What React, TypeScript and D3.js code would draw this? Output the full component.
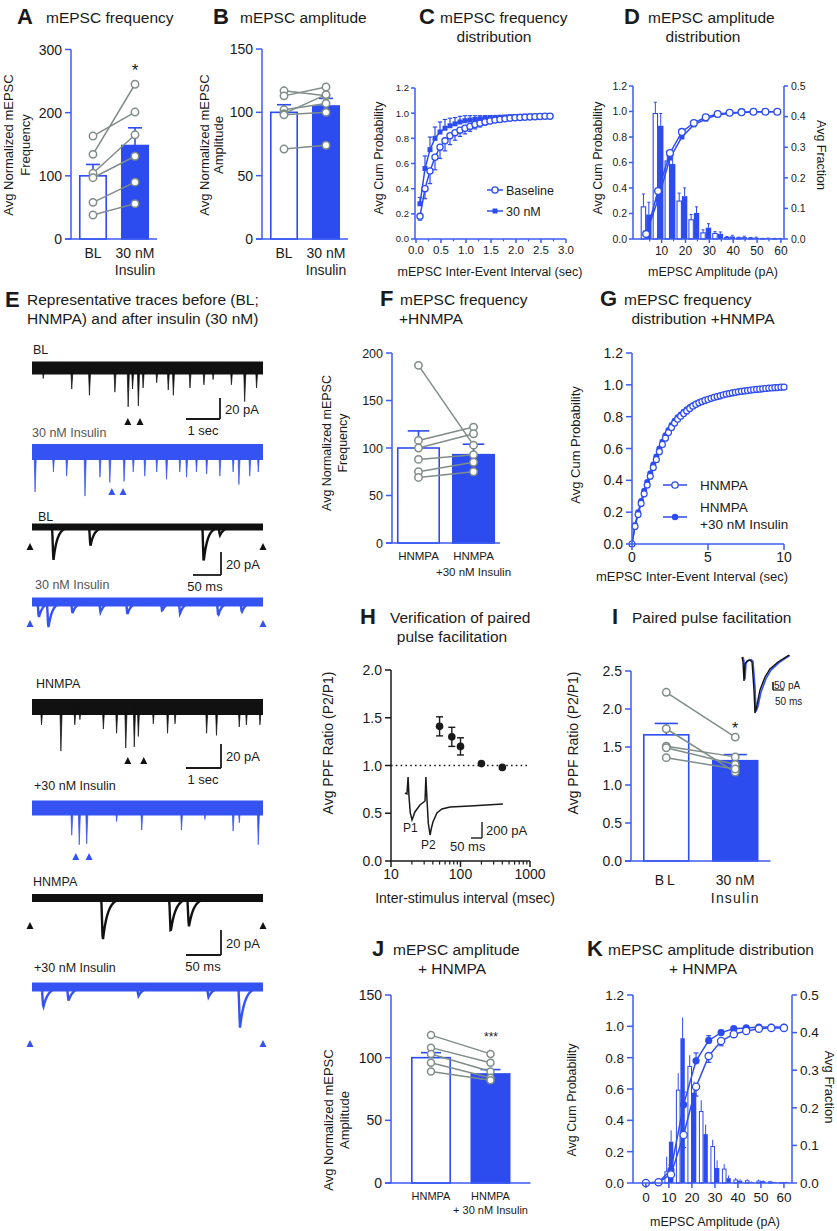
import React from "react";
import * as d3 from "d3";

const BLUE = "#2d4cf0";
const AXB = "#3b5bf5";
const GRAY = "#7f8d89";
const TBLUE = "#3553f2";
const INK = "#1a1a1a";
const FONT = "'Liberation Sans', Arial, Helvetica, sans-serif";

// ---------------- DATA ----------------
// A
const catsA = ["BL", "30 nM Insulin"];
const meanA = [100, 148];
const semA = [18, 28];
const preA = [163, 134, 104, 97, 58, 38];
const postA = [201, 245, 165, 131, 90, 56];
const ticksA = [0, 100, 200, 300];
// B
const meanB = [100, 105];
const semB = [6, 6];
const preB = [117, 113, 102, 99, 98, 71];
const postB = [113, 120, 107, 114, 100, 74];
const ticksB = [0, 50, 100, 150];
// C
const tC = [0.08, 0.18, 0.28, 0.38, 0.48, 0.58, 0.68, 0.78, 0.88, 0.98, 1.08, 1.18, 1.28, 1.38, 1.48, 1.58, 1.68, 1.78, 1.88, 1.98, 2.08, 2.18, 2.28, 2.38, 2.48, 2.58, 2.68];
const cumBLC = [0.18, 0.4, 0.54, 0.65, 0.73, 0.78, 0.82, 0.845, 0.865, 0.88, 0.895, 0.91, 0.92, 0.93, 0.938, 0.945, 0.95, 0.955, 0.96, 0.963, 0.966, 0.968, 0.97, 0.972, 0.974, 0.975, 0.976];
const errBLC = [0.03, 0.08, 0.1, 0.1, 0.09, 0.08, 0.07, 0.06, 0.05, 0.045, 0.04, 0.035, 0.03, 0.025, 0.02, 0.018, 0.016, 0.014, 0.012, 0.01, 0.01, 0.008, 0.008, 0.006, 0.006, 0.005, 0.005];
const cumInsC = [0.28, 0.56, 0.71, 0.8, 0.85, 0.88, 0.9, 0.915, 0.93, 0.94, 0.945, 0.95, 0.955, 0.96, 0.963, 0.966, 0.968, 0.97, 0.972, 0.974, 0.975, 0.976, 0.977, 0.978, 0.979, 0.98, 0.98];
const errInsC = [0.05, 0.1, 0.1, 0.09, 0.08, 0.07, 0.06, 0.05, 0.045, 0.04, 0.035, 0.03, 0.025, 0.02, 0.018, 0.015, 0.012, 0.01, 0.01, 0.008, 0.008, 0.006, 0.006, 0.005, 0.005, 0.004, 0.004];
const ticksCx = [0, 0.5, 1, 1.5, 2, 2.5, 3];
const ticksCum = [0, 0.2, 0.4, 0.6, 0.8, 1.0, 1.2];
// D
const binD = [3.5, 8.5, 13.5, 18.5, 23.5, 28.5, 33.5, 38.5, 43.5, 48.5, 53.5, 58.5];
const fracBLD = [0.105, 0.41, 0.255, 0.124, 0.063, 0.02, 0.018, 0.005, 0.004, 0.003, 0.001, 0.001];
const fracBLDerr = [0.042, 0.037, 0.03, 0.026, 0.017, 0.01, 0.006, 0.003, 0.002, 0.002, 0.001, 0.001];
const fracInsD = [0.08, 0.37, 0.245, 0.14, 0.085, 0.037, 0.017, 0.008, 0.006, 0.004, 0.002, 0.001];
const fracInsDerr = [0.04, 0.04, 0.03, 0.027, 0.02, 0.013, 0.006, 0.004, 0.003, 0.002, 0.001, 0.001];
const cumBLD = [0.04, 0.376, 0.675, 0.84, 0.91, 0.955, 0.98, 0.99, 0.995, 0.998, 0.998, 0.998];
const cumInsD = [0.04, 0.31, 0.635, 0.8, 0.895, 0.94, 0.975, 0.985, 0.993, 0.997, 0.998, 0.998];
const ticksDx = [10, 20, 30, 40, 50, 60];
const ticksFrac = [0, 0.1, 0.2, 0.3, 0.4, 0.5];
// E traces (time s, amplitude pA)
const evBL1: number[][] = [[0.33, 10], [1.17, 20], [1.69, 26], [2.44, 23], [2.83, 37], [2.96, 20], [3.13, 36], [3.27, 19], [3.67, 14], [4.01, 21], [4.16, 26], [4.65, 19], [5.06, 16], [5.33, 11], [5.87, 16], [6.26, 32], [6.61, 19]];
const evIns1: number[][] = [[0.09, 38], [0.63, 19], [1.02, 23], [1.56, 42], [2.0, 24], [2.29, 29], [2.71, 28], [2.98, 19], [3.32, 23], [3.67, 19], [3.96, 26], [4.35, 19], [4.55, 24], [4.84, 19], [5.14, 21], [5.53, 23], [5.92, 19], [6.09, 31], [6.41, 23], [6.66, 19]];
const evHN1: number[][] = [[0.28, 17], [0.85, 42], [1.26, 17], [1.41, 12], [2.1, 21], [2.49, 25], [2.76, 39], [3.01, 38], [3.13, 28], [3.57, 16], [3.99, 25], [4.21, 16], [5.14, 25], [5.43, 27], [6.1, 19], [6.31, 17], [6.71, 17]];
const evHNIns1: number[][] = [[1.17, 26], [1.39, 35], [1.61, 34], [2.49, 13], [3.23, 21], [4.4, 21], [5.09, 11], [5.92, 22], [6.1, 14], [6.66, 35]];
const arrBL1 = [2.82, 3.18];
const arrIns1 = [2.35, 2.68];
const arrHN1 = [2.82, 3.29];
const arrHNIns1 = [1.29, 1.68];
// zoomed traces (time ms, amplitude pA)
const evBL2: number[][] = [[36, 30], [102, 17], [304, 31], [333, 7]];
const evIns2: number[][] = [[10, 14], [27, 22], [70, 10], [120, 9], [168, 11], [230, 8], [262, 10], [330, 12], [372, 9]];
const evHN2: number[][] = [[99, 38], [196, 30], [222, 25]];
const evHNIns2: number[][] = [[14, 18], [50, 12], [150, 8], [250, 9], [295, 36]];
// F
const catsF = ["HNMPA", "HNMPA +30 nM Insulin"];
const meanF = [100, 93];
const semF = [18, 11];
const preF = [187, 108, 100, 88, 75, 69];
const postF = [103, 122, 115, 93, 85, 75];
const ticksF = [0, 50, 100, 150, 200];
// G
const tG = [0, 0.2, 0.4, 0.6, 0.8, 1, 1.2, 1.4, 1.6, 1.8, 2, 2.2, 2.4, 2.6, 2.8, 3, 3.2, 3.4, 3.6, 3.8, 4, 4.2, 4.4, 4.6, 4.8, 5, 5.2, 5.4, 5.6, 5.8, 6, 6.2, 6.4, 6.6, 6.8, 7, 7.2, 7.4, 7.6, 7.8, 8, 8.2, 8.4, 8.6, 8.8, 9, 9.2, 9.4, 9.6, 9.8, 10];
const cumHG = [0, 0.11, 0.185, 0.255, 0.315, 0.37, 0.425, 0.48, 0.53, 0.58, 0.625, 0.665, 0.7, 0.732, 0.76, 0.783, 0.802, 0.82, 0.836, 0.851, 0.866, 0.877, 0.887, 0.895, 0.902, 0.908, 0.915, 0.921, 0.926, 0.931, 0.936, 0.941, 0.945, 0.949, 0.953, 0.956, 0.959, 0.962, 0.964, 0.967, 0.969, 0.971, 0.973, 0.975, 0.977, 0.979, 0.98, 0.982, 0.983, 0.985, 0.986];
const cumIG = [0, 0.12, 0.2, 0.27, 0.335, 0.39, 0.445, 0.5, 0.55, 0.6, 0.643, 0.683, 0.717, 0.748, 0.774, 0.796, 0.814, 0.831, 0.846, 0.86, 0.872, 0.882, 0.891, 0.899, 0.906, 0.912, 0.918, 0.924, 0.929, 0.934, 0.939, 0.943, 0.947, 0.951, 0.955, 0.958, 0.961, 0.963, 0.966, 0.968, 0.97, 0.972, 0.974, 0.976, 0.978, 0.98, 0.981, 0.983, 0.984, 0.986, 0.987];
const ticksGx = [0, 5, 10];
// H
const isiH = [50, 75, 100, 200, 400];
const ppfH = [1.41, 1.3, 1.2, 1.02, 0.98];
const ppfErrH = [0.1, 0.1, 0.09, 0, 0];
const ticksHy = [0, 0.5, 1, 1.5, 2];
const ticksHx = [10, 100, 1000];
const ppfTraceT = [0, 9, 14, 18, 24, 32, 38, 45, 68, 91, 95, 100, 106, 114, 120, 127, 145, 168, 205, 295, 445];
const ppfTraceI = [0, -12, 200, -37, -250, -337, -290, -237, -150, -100, 200, -87, -380, -525, -440, -362, -250, -200, -175, -162, -137];
// I
const catsI = ["BL", "30 nM Insulin"];
const meanI = [1.66, 1.32];
const semI = [0.15, 0.08];
const preI = [2.22, 1.74, 1.51, 1.49, 1.36];
const postI = [1.63, 1.17, 1.37, 1.27, 1.21];
const ticksI = [0, 0.5, 1, 1.5, 2, 2.5];
const insetT = [0, 4.5, 9, 13.6, 22.7, 36.4, 45.5, 54.5, 59, 68, 81.8, 104.5, 127, 163.6, 213.6];
const insetBL = [0, -31, -150, -44, -25, -19, -31, -206, -350, -300, -206, -125, -75, -31, 12];
const insetIns = [0, -25, -140, -40, -22, -17, -28, -190, -340, -310, -220, -135, -82, -35, 10];
// J
const meanJ = [100, 87];
const semJ = [4, 3.5];
const preJ = [118, 108, 103, 96, 89];
const postJ = [103, 96, 89, 84, 82];
// K
const cumXK = [0, 5.5, 10.9, 16.4, 21.8, 27.3, 32.7, 38.2, 43.6, 49.1, 54.5, 60];
const cumHK = [0, 0.005, 0.055, 0.306, 0.615, 0.81, 0.906, 0.95, 0.97, 0.985, 0.99, 0.99];
const cumHKerr = [0, 0, 0.03, 0.08, 0.06, 0.04, 0.03, 0.02, 0.01, 0.005, 0, 0];
const cumIK = [0, 0.005, 0.083, 0.5, 0.78, 0.91, 0.96, 0.985, 0.99, 0.995, 0.995, 0.995];
const cumIKerr = [0, 0, 0.03, 0.08, 0.05, 0.03, 0.015, 0.01, 0.005, 0, 0, 0];
const binK = [10, 15, 20, 25, 30, 35, 40, 45, 50, 55, 60];
const fracHK = [0.03, 0.247, 0.31, 0.19, 0.097, 0.037, 0.008, 0.006, 0.005, 0.003, 0.001];
const fracHKerr = [0.04, 0.045, 0.03, 0.03, 0.018, 0.013, 0.006, 0.004, 0.004, 0.003, 0.002];
const fracIK = [0.11, 0.385, 0.24, 0.13, 0.04, 0.013, 0.006, 0.002, 0.005, 0.002, 0.002];
const fracIKerr = [0.03, 0.055, 0.03, 0.025, 0.02, 0.007, 0.004, 0.002, 0.002, 0.001, 0.001];
const ticksKx = [0, 10, 20, 30, 40, 50, 60];

// ---------------- helpers ----------------
const f1 = (v: number) => v.toFixed(1);
const f0 = (v: number) => String(v);

function YAxis({ x, scale, ticks, fmt, fs, color = AXB, len = 5, right = false, gap = 3, textColor = INK }: any) {
  const [r0, r1] = scale.range();
  return (
    <g>
      <line x1={x} x2={x} y1={r0} y2={r1} stroke={color} strokeWidth={1.5} />
      {ticks.map((t: number) => (
        <g key={t}>
          <line x1={x} x2={right ? x + len : x - len} y1={scale(t)} y2={scale(t)} stroke={color} strokeWidth={1.5} />
          <text x={right ? x + len + gap : x - len - gap} y={scale(t) + fs * 0.36} fontSize={fs} textAnchor={right ? "start" : "end"} fill={textColor}>{fmt(t)}</text>
        </g>
      ))}
    </g>
  );
}

function XTicks({ y, scale, ticks, fmt, fs, color = AXB, len = 5, gap = 4, minor = [] as number[] }: any) {
  return (
    <g>
      {minor.map((t: number) => (
        <line key={"m" + t} x1={scale(t)} x2={scale(t)} y1={y} y2={y + len * 0.6} stroke={color} strokeWidth={1.2} />
      ))}
      {ticks.map((t: number) => (
        <g key={t}>
          <line x1={scale(t)} x2={scale(t)} y1={y} y2={y + len} stroke={color} strokeWidth={1.5} />
          <text x={scale(t)} y={y + len + gap + fs * 0.72} fontSize={fs} textAnchor="middle" fill={INK}>{fmt(t)}</text>
        </g>
      ))}
    </g>
  );
}

function RotLabel({ x, y, lines, fs, gap, dir = -1 }: any) {
  return (
    <g>
      {lines.map((l: string, i: number) => (
        <text key={i} transform={`translate(${x + i * gap},${y}) rotate(${dir * 90})`} fontSize={fs} textAnchor="middle" fill={INK}>{l}</text>
      ))}
    </g>
  );
}

function Title({ letter, lx, tx, y, line1, line2, l2x, l2anchor = "middle", fs = 15.5, lfs = 22 }: any) {
  return (
    <g>
      <text x={lx} y={y + 1} fontSize={lfs} fontWeight="bold" fill={INK}>{letter}</text>
      <text x={tx} y={y} fontSize={fs} fill={INK}>{line1}</text>
      {line2 && <text x={l2x} y={y + 19} fontSize={fs} textAnchor={l2anchor} fill={INK}>{line2}</text>}
    </g>
  );
}

function BarPanel({ cats, means, sems, pre, post, max, ticks, fmt, axisX, xEnd, yTop, yBot, pi, po, fs, labels, labelFs, labelY, lineGap, spacing = [[0], [0, 0]], r = 3.7 }: any) {
  const y = d3.scaleLinear().domain([0, max]).range([yBot, yTop]);
  const x = d3.scaleBand<string>().domain(cats).range([axisX, xEnd]).paddingInner(pi).paddingOuter(po);
  const bw = x.bandwidth();
  const cx = (c: string) => (x(c) as number) + bw / 2;
  return (
    <g>
      {cats.map((c: string, i: number) => (
        <g key={c}>
          <rect x={(x(c) as number) + 0.8} y={y(means[i])} width={bw - 1.6} height={yBot - y(means[i])} fill={i === 0 ? "#fff" : BLUE} stroke={BLUE} strokeWidth={1.6} />
          <line x1={cx(c)} x2={cx(c)} y1={y(means[i])} y2={y(means[i] + sems[i])} stroke={BLUE} strokeWidth={1.6} />
          <line x1={cx(c) - bw * 0.25} x2={cx(c) + bw * 0.25} y1={y(means[i] + sems[i])} y2={y(means[i] + sems[i])} stroke={BLUE} strokeWidth={1.6} />
        </g>
      ))}
      {pre.map((v: number, i: number) => (
        <line key={"l" + i} x1={cx(cats[0])} y1={y(v)} x2={cx(cats[1])} y2={y(post[i])} stroke={GRAY} strokeWidth={1.5} />
      ))}
      {pre.map((v: number, i: number) => (
        <circle key={"a" + i} cx={cx(cats[0])} cy={y(v)} r={r} fill="#fff" stroke={GRAY} strokeWidth={1.5} />
      ))}
      {post.map((v: number, i: number) => (
        <circle key={"b" + i} cx={cx(cats[1])} cy={y(v)} r={r} fill="#fff" stroke={GRAY} strokeWidth={1.5} />
      ))}
      <YAxis x={axisX} scale={y} ticks={ticks} fmt={fmt} fs={fs} len={6} />
      <line x1={axisX - 6} x2={xEnd} y1={yBot} y2={yBot} stroke={AXB} strokeWidth={1.6} />
      {cats.map((c: string, i: number) =>
        labels[i].map((l: string, k: number) => (
          <text key={c + k} x={cx(c)} y={labelY + k * lineGap} fontSize={labelFs} textAnchor="middle" letterSpacing={spacing[i][k]} fill={INK}>{l}</text>
        ))
      )}
    </g>
  );
}

function Arrow({ x, y, color, s = 7 }: any) {
  return <path d={`M${x - s / 2},${y + s} L${x + s / 2},${y + s} L${x},${y} Z`} fill={color} />;
}

const tSec = d3.scaleLinear().domain([0, 6.8]).range([32, 263]);
const aSec = d3.scaleLinear().domain([0, 20]).range([0, 21]);

function SpikeTrace({ events, arrows, cy, half, color, arrowY }: any) {
  return (
    <g>
      <rect x={32} y={cy - half} width={231} height={half * 2} fill={color} />
      {events.map(([t, a]: number[], i: number) => (
        <path key={i} d={`M${tSec(t) - 1},${cy} L${tSec(t)},${cy + aSec(a)} L${tSec(t) + 1.4},${cy} Z`} fill={color} stroke={color} strokeWidth={0.7} />
      ))}
      {arrows.map((t: number, i: number) => (
        <Arrow key={"ar" + i} x={tSec(t)} y={arrowY} color={color} />
      ))}
    </g>
  );
}

function EventTrace({ events, cy, color, dur, pxPerPa, half = 3.5, arrowY }: any) {
  const t = d3.scaleLinear().domain([0, dur]).range([32, 263]);
  const a = d3.scaleLinear().domain([0, 1]).range([0, pxPerPa]);
  const rise = 2;
  const tau = 7;
  const pts: [number, number][] = [];
  for (let px = 32; px <= 263; px += 0.5) {
    const ms = t.invert(px);
    let v = 0;
    for (const [et, amp] of events) {
      const d = ms - et;
      if (d >= 0) v += amp * (d < rise ? d / rise : Math.exp(-(d - rise) / tau));
    }
    pts.push([px, cy + a(v)]);
  }
  const line = d3.line();
  return (
    <g>
      <rect x={32} y={cy - half} width={231} height={half * 2} fill={color} />
      <path d={line(pts) as string} fill="none" stroke={color} strokeWidth={2.4} />
      <Arrow x={30} y={arrowY} color={color} />
      <Arrow x={263} y={arrowY} color={color} />
    </g>
  );
}

function ScaleBar({ vx, vy0, vy1, hx0, label1, label2, l2x, l2y }: any) {
  return (
    <g>
      <line x1={vx} x2={vx} y1={vy0} y2={vy1} stroke={INK} strokeWidth={1.8} />
      <line x1={hx0} x2={vx} y1={vy1} y2={vy1} stroke={INK} strokeWidth={1.8} />
      <text x={vx + 5} y={(vy0 + vy1) / 2 + 5} fontSize={13} fill={INK}>{label1}</text>
      <text x={l2x} y={l2y} fontSize={13} textAnchor="middle" fill={INK}>{label2}</text>
    </g>
  );
}

// ---------------- panels ----------------
function PanelC() {
  const x = d3.scaleLinear().domain([0, 3]).range([416, 566]);
  const y = d3.scaleLinear().domain([0, 1.2]).range([239, 88]);
  const ln = d3.line<number>().x((_, i) => x(tC[i])).y((d) => y(d));
  return (
    <g>
      <Title letter="C" lx={419} tx={440} y={23} line1="mEPSC frequency" line2="distribution" l2x={494} />
      {cumInsC.map((v, i) => (
        <g key={"ei" + i}>
          <line x1={x(tC[i])} x2={x(tC[i])} y1={y(v)} y2={y(v + errInsC[i])} stroke={BLUE} strokeWidth={1.2} />
          <line x1={x(tC[i]) - 2.2} x2={x(tC[i]) + 2.2} y1={y(v + errInsC[i])} y2={y(v + errInsC[i])} stroke={BLUE} strokeWidth={1.2} />
        </g>
      ))}
      {cumBLC.map((v, i) => (
        <g key={"eb" + i}>
          <line x1={x(tC[i])} x2={x(tC[i])} y1={y(v)} y2={y(v - errBLC[i])} stroke={BLUE} strokeWidth={1.2} />
          <line x1={x(tC[i]) - 2.2} x2={x(tC[i]) + 2.2} y1={y(v - errBLC[i])} y2={y(v - errBLC[i])} stroke={BLUE} strokeWidth={1.2} />
        </g>
      ))}
      <path d={ln(cumInsC) as string} fill="none" stroke={BLUE} strokeWidth={1.5} />
      <path d={ln(cumBLC) as string} fill="none" stroke={BLUE} strokeWidth={1.5} />
      {cumInsC.map((v, i) => (
        <rect key={"s" + i} x={x(tC[i]) - 2.5} y={y(v) - 2.5} width={5} height={5} fill={BLUE} />
      ))}
      {cumBLC.map((v, i) => (
        <circle key={"c" + i} cx={x(tC[i])} cy={y(v)} r={3.1} fill="#fff" stroke={BLUE} strokeWidth={1.3} />
      ))}
      <YAxis x={415} scale={y} ticks={ticksCum} fmt={f1} fs={9.5} len={4} gap={2} />
      <line x1={415} x2={566} y1={239} y2={239} stroke={AXB} strokeWidth={1.5} />
      <XTicks y={239} scale={x} ticks={ticksCx} fmt={f1} fs={11.5} len={4} gap={3} minor={[0.25, 0.75, 1.25, 1.75, 2.25, 2.75]} />
      <text x={490} y={276} fontSize={12.5} textAnchor="middle" fill={INK}>mEPSC Inter-Event Interval (sec)</text>
      <RotLabel x={383} y={158} lines={["Avg Cum Probability"]} fs={12.5} gap={0} />
      <line x1={487} x2={503} y1={190} y2={190} stroke={BLUE} strokeWidth={1.5} />
      <circle cx={495} cy={190} r={3.1} fill="#fff" stroke={BLUE} strokeWidth={1.3} />
      <text x={506} y={194.5} fontSize={12.5} fill={INK}>Baseline</text>
      <line x1={487} x2={503} y1={211} y2={211} stroke={BLUE} strokeWidth={1.5} />
      <rect x={492.5} y={208.5} width={5} height={5} fill={BLUE} />
      <text x={506} y={215.5} fontSize={12.5} fill={INK}>30 nM</text>
    </g>
  );
}

function PanelD() {
  const x = d3.scaleLinear().domain([-2, 61.3]).range([633, 784]);
  const yL = d3.scaleLinear().domain([0, 1.2]).range([239, 86]);
  const yR = d3.scaleLinear().domain([0, 0.5]).range([239, 86]);
  const w = 5.4;
  const ln = d3.line<number>().x((_, i) => x(binD[i])).y((d) => yL(d));
  return (
    <g>
      <Title letter="D" lx={624} tx={648} y={23} line1="mEPSC amplitude" line2="distribution" l2x={703} />
      {binD.map((b, i) => (
        <g key={i}>
          <line x1={x(b) - w / 2} x2={x(b) - w / 2} y1={yR(fracBLD[i])} y2={yR(fracBLD[i] + fracBLDerr[i])} stroke={BLUE} strokeWidth={1} />
          <line x1={x(b) - w / 2 - 1.5} x2={x(b) - w / 2 + 1.5} y1={yR(fracBLD[i] + fracBLDerr[i])} y2={yR(fracBLD[i] + fracBLDerr[i])} stroke={BLUE} strokeWidth={1} />
          <line x1={x(b) + w / 2} x2={x(b) + w / 2} y1={yR(fracInsD[i])} y2={yR(fracInsD[i] + fracInsDerr[i])} stroke={BLUE} strokeWidth={1} />
          <line x1={x(b) + w / 2 - 1.5} x2={x(b) + w / 2 + 1.5} y1={yR(fracInsD[i] + fracInsDerr[i])} y2={yR(fracInsD[i] + fracInsDerr[i])} stroke={BLUE} strokeWidth={1} />
          <rect x={x(b) - w + 0.5} y={yR(fracBLD[i])} width={w - 1} height={239 - yR(fracBLD[i])} fill="#fff" stroke={BLUE} strokeWidth={1.1} />
          <rect x={x(b)} y={yR(fracInsD[i])} width={w} height={239 - yR(fracInsD[i])} fill={BLUE} />
        </g>
      ))}
      <path d={ln(cumInsD) as string} fill="none" stroke={BLUE} strokeWidth={1.5} />
      <path d={ln(cumBLD) as string} fill="none" stroke={BLUE} strokeWidth={1.5} />
      {cumInsD.map((v, i) => (
        <rect key={"s" + i} x={x(binD[i]) - 2.5} y={yL(v) - 2.5} width={5} height={5} fill={BLUE} />
      ))}
      {cumBLD.map((v, i) => (
        <circle key={"c" + i} cx={x(binD[i])} cy={yL(v)} r={3.4} fill="#fff" stroke={BLUE} strokeWidth={1.3} />
      ))}
      <YAxis x={633} scale={yL} ticks={ticksCum} fmt={f1} fs={10.5} len={4} gap={2} />
      <YAxis x={784} scale={yR} ticks={ticksFrac} fmt={f1} fs={10.5} len={4} gap={3} right />
      <line x1={633} x2={784} y1={239} y2={239} stroke={AXB} strokeWidth={1.5} />
      <XTicks y={239} scale={x} ticks={ticksDx} fmt={f0} fs={12} len={4} gap={3} minor={[5, 15, 25, 35, 45, 55]} />
      <text x={713} y={276} fontSize={12.5} textAnchor="middle" fill={INK}>mEPSC Amplitude (pA)</text>
      <RotLabel x={602} y={158} lines={["Avg Cum Probability"]} fs={12.5} gap={0} />
      <RotLabel x={817} y={155} lines={["Avg Fraction"]} fs={12.5} gap={0} dir={1} />
    </g>
  );
}

function PanelE() {
  return (
    <g>
      <text x={5} y={307} fontSize={22} fontWeight="bold" fill={INK}>E</text>
      <text x={27} y={305} fontSize={15.5} fill={INK}>Representative traces before (BL;</text>
      <text x={27} y={324} fontSize={15.5} fill={INK}>HNMPA) and after insulin (30 nM)</text>
      <text x={33} y={354} fontSize={12.5} fill={INK}>BL</text>
      <SpikeTrace events={evBL1} arrows={arrBL1} cy={368} half={6.5} color="#111" arrowY={418} />
      <ScaleBar vx={220} vy0={398} vy1={419} hx0={186} label1="20 pA" label2="1 sec" l2x={203} l2y={435} />
      <text x={32} y={437} fontSize={12.5} fill="#555">30 nM Insulin</text>
      <SpikeTrace events={evIns1} arrows={arrIns1} cy={452} half={8} color={TBLUE} arrowY={488} />
      <text x={38} y={521} fontSize={12.5} fill={INK}>BL</text>
      <EventTrace events={evBL2} cy={527} color="#111" dur={412} pxPerPa={1.15} arrowY={543} />
      <ScaleBar vx={221} vy0={552} vy1={575} hx0={193} label1="20 pA" label2="50 ms" l2x={205} l2y={591} />
      <text x={35} y={589} fontSize={12.5} fill="#555">30 nM Insulin</text>
      <EventTrace events={evIns2} cy={602} color={TBLUE} dur={412} pxPerPa={1.15} half={4.5} arrowY={620} />

      <text x={36} y={688} fontSize={12.5} fill={INK}>HNMPA</text>
      <SpikeTrace events={evHN1} arrows={arrHN1} cy={707} half={8} color="#111" arrowY={757} />
      <ScaleBar vx={221} vy0={744} vy1={768} hx0={186} label1="20 pA" label2="1 sec" l2x={203} l2y={784} />
      <text x={34} y={790} fontSize={12.5} fill={INK}>+30 nM Insulin</text>
      <SpikeTrace events={evHNIns1} arrows={arrHNIns1} cy={808} half={7.5} color={TBLUE} arrowY={853} />
      <text x={33} y={886} fontSize={12.5} fill={INK}>HNMPA</text>
      <EventTrace events={evHN2} cy={898} color="#111" dur={330} pxPerPa={1.15} half={4} arrowY={922} />
      <ScaleBar vx={221} vy0={930} vy1={955} hx0={186} label1="20 pA" label2="50 ms" l2x={203} l2y={971} />
      <text x={34} y={972} fontSize={12.5} fill={INK}>+30 nM Insulin</text>
      <EventTrace events={evHNIns2} cy={987} color={TBLUE} dur={330} pxPerPa={1.15} half={4.5} arrowY={1040} />
    </g>
  );
}

function PanelG() {
  const x = d3.scaleLinear().domain([0, 10]).range([632, 784]);
  const y = d3.scaleLinear().domain([0, 1.2]).range([544, 353]);
  const ln = d3.line<number>().x((_, i) => x(tG[i])).y((d) => y(d));
  return (
    <g>
      <Title letter="G" lx={600} tx={624} y={305} line1="mEPSC  frequency" line2="distribution +HNMPA" l2x={703} />
      <path d={ln(cumIG) as string} fill="none" stroke={BLUE} strokeWidth={1.5} />
      <path d={ln(cumHG) as string} fill="none" stroke={BLUE} strokeWidth={1.5} />
      {cumIG.map((v, i) => (
        <circle key={"f" + i} cx={x(tG[i])} cy={y(v)} r={3} fill={BLUE} />
      ))}
      {cumHG.map((v, i) => (
        <circle key={"o" + i} cx={x(tG[i])} cy={y(v)} r={3} fill="#fff" stroke={BLUE} strokeWidth={1.2} />
      ))}
      <YAxis x={632} scale={y} ticks={ticksCum} fmt={f1} fs={14} len={6} gap={3} />
      <line x1={632} x2={784} y1={544} y2={544} stroke={AXB} strokeWidth={1.5} />
      <XTicks y={544} scale={x} ticks={ticksGx} fmt={f0} fs={14} len={6} gap={2} />
      <text x={692} y={581} fontSize={13} textAnchor="middle" fill={INK}>mEPSC Inter-Event Interval (sec)</text>
      <RotLabel x={580} y={445} lines={["Avg Cum Probability"]} fs={13} gap={0} />
      <line x1={663} x2={687} y1={485} y2={485} stroke={BLUE} strokeWidth={1.5} />
      <circle cx={675} cy={485} r={3.2} fill="#fff" stroke={BLUE} strokeWidth={1.3} />
      <text x={700} y={490} fontSize={13.5} fill={INK}>HNMPA</text>
      <line x1={663} x2={687} y1={517} y2={517} stroke={BLUE} strokeWidth={1.5} />
      <circle cx={675} cy={517} r={3.2} fill={BLUE} />
      <text x={700} y={512} fontSize={13.5} fill={INK}>HNMPA</text>
      <text x={700} y={529} fontSize={13.5} fill={INK}>+30 nM Insulin</text>
    </g>
  );
}

function PanelH() {
  const x = d3.scaleLog().domain([10, 1000]).range([391, 530]);
  const y = d3.scaleLinear().domain([0, 2]).range([861, 670]);
  const minor = [20, 30, 40, 50, 60, 70, 80, 90, 200, 300, 400, 500, 600, 700, 800, 900];
  const tx = d3.scaleLinear().domain([0, 50]).range([405, 416]);
  const ty = d3.scaleLinear().domain([0, 200]).range([793, 777]);
  const tl = d3.line<number>().x((_, i) => tx(ppfTraceT[i])).y((d) => ty(d));
  return (
    <g>
      <Title letter="H" lx={360} tx={390} y={623} line1="Verification of paired" line2="pulse facilitation" l2x={452} />
      <line x1={391} x2={530} y1={y(1)} y2={y(1)} stroke={INK} strokeWidth={1.6} strokeDasharray="1.6,3.2" />
      {isiH.map((v, i) => (
        <g key={i}>
          {ppfErrH[i] > 0 && (
            <g>
              <line x1={x(v)} x2={x(v)} y1={y(ppfH[i] - ppfErrH[i])} y2={y(ppfH[i] + ppfErrH[i])} stroke={INK} strokeWidth={1.4} />
              <line x1={x(v) - 3.5} x2={x(v) + 3.5} y1={y(ppfH[i] + ppfErrH[i])} y2={y(ppfH[i] + ppfErrH[i])} stroke={INK} strokeWidth={1.4} />
              <line x1={x(v) - 3.5} x2={x(v) + 3.5} y1={y(ppfH[i] - ppfErrH[i])} y2={y(ppfH[i] - ppfErrH[i])} stroke={INK} strokeWidth={1.4} />
            </g>
          )}
          <circle cx={x(v)} cy={y(ppfH[i])} r={3.8} fill={INK} />
        </g>
      ))}
      <path d={tl(ppfTraceI) as string} fill="none" stroke={INK} strokeWidth={1.5} />
      <text x={403} y={832} fontSize={12} fill={INK}>P1</text>
      <text x={421} y={849} fontSize={12} fill={INK}>P2</text>
      <line x1={471} x2={482} y1={838} y2={838} stroke={INK} strokeWidth={1.4} />
      <line x1={482} x2={482} y1={822} y2={838} stroke={INK} strokeWidth={1.4} />
      <text x={486} y={835} fontSize={13} fill={INK}>200 pA</text>
      <text x={450} y={851} fontSize={13} fill={INK}>50 ms</text>
      <YAxis x={391} scale={y} ticks={ticksHy} fmt={f1} fs={14} len={6} gap={3} color={INK} />
      <line x1={391} x2={530} y1={861} y2={861} stroke={INK} strokeWidth={1.5} />
      <XTicks y={861} scale={x} ticks={ticksHx} fmt={f0} fs={14} len={6} gap={2} color={INK} minor={minor} />
      <text x={465} y={903} fontSize={14} textAnchor="middle" fill={INK}>Inter-stimulus interval (msec)</text>
      <RotLabel x={333} y={743} lines={["Avg PPF Ratio (P2/P1)"]} fs={14} gap={0} />
    </g>
  );
}

function PanelIInset() {
  const tx = d3.scaleLinear().domain([0, 50]).range([742, 753]);
  const ty = d3.scaleLinear().domain([0, 50]).range([657, 649]);
  const lb = d3.line<number>().x((_, i) => tx(insetT[i])).y((d) => ty(d));
  return (
    <g>
      <path d={lb(insetIns) as string} fill="none" stroke={TBLUE} strokeWidth={1.6} transform="translate(1,0)" />
      <path d={lb(insetBL) as string} fill="none" stroke="#111" strokeWidth={1.4} />
      <line x1={773} x2={773} y1={682} y2={690} stroke={INK} strokeWidth={1.6} />
      <line x1={773} x2={784} y1={690} y2={690} stroke={INK} strokeWidth={1.2} />
      <text x={774} y={689} fontSize={10} fill={INK}>50 pA</text>
      <text x={775} y={705} fontSize={10} fill={INK}>50 ms</text>
    </g>
  );
}

function PanelK() {
  const x = d3.scaleLinear().domain([-5.6, 63.5]).range([633, 792]);
  const yL = d3.scaleLinear().domain([0, 1.2]).range([1183, 995]);
  const yR = d3.scaleLinear().domain([0, 0.5]).range([1183, 995]);
  const w = 4.4;
  const lnH = d3.line<number>().x((_, i) => x(cumXK[i])).y((d) => yL(d));
  return (
    <g>
      <Title letter="K" lx={587} tx={608} y={955} line1="mEPSC amplitude distribution" line2="+ HNMPA" l2x={703} />
      {binK.map((b, i) => (
        <g key={i}>
          <line x1={x(b) - w / 2} x2={x(b) - w / 2} y1={yR(fracHK[i])} y2={yR(fracHK[i] + fracHKerr[i])} stroke={BLUE} strokeWidth={1} />
          <line x1={x(b) + w / 2} x2={x(b) + w / 2} y1={yR(fracIK[i])} y2={yR(fracIK[i] + fracIKerr[i])} stroke={BLUE} strokeWidth={1} />
          <rect x={x(b) - w + 0.4} y={yR(fracHK[i])} width={w - 0.8} height={1183 - yR(fracHK[i])} fill="#fff" stroke={BLUE} strokeWidth={1} />
          <rect x={x(b)} y={yR(fracIK[i])} width={w} height={1183 - yR(fracIK[i])} fill={BLUE} />
        </g>
      ))}
      {cumXK.map((c, i) => (
        <g key={"e" + i}>
          {cumIKerr[i] > 0 && <line x1={x(c)} x2={x(c)} y1={yL(cumIK[i])} y2={yL(cumIK[i] + cumIKerr[i])} stroke={BLUE} strokeWidth={1.2} />}
          {cumIKerr[i] > 0 && <line x1={x(c) - 2.5} x2={x(c) + 2.5} y1={yL(cumIK[i] + cumIKerr[i])} y2={yL(cumIK[i] + cumIKerr[i])} stroke={BLUE} strokeWidth={1.2} />}
          {cumHKerr[i] > 0 && <line x1={x(c)} x2={x(c)} y1={yL(cumHK[i])} y2={yL(cumHK[i] - cumHKerr[i])} stroke={BLUE} strokeWidth={1.2} />}
          {cumHKerr[i] > 0 && <line x1={x(c) - 2.5} x2={x(c) + 2.5} y1={yL(cumHK[i] - cumHKerr[i])} y2={yL(cumHK[i] - cumHKerr[i])} stroke={BLUE} strokeWidth={1.2} />}
        </g>
      ))}
      <path d={lnH(cumIK) as string} fill="none" stroke={BLUE} strokeWidth={1.5} />
      <path d={lnH(cumHK) as string} fill="none" stroke={BLUE} strokeWidth={1.5} />
      {cumIK.map((v, i) => (
        <circle key={"f" + i} cx={x(cumXK[i])} cy={yL(v)} r={3.6} fill={BLUE} />
      ))}
      {cumHK.map((v, i) => (
        <circle key={"o" + i} cx={x(cumXK[i])} cy={yL(v)} r={3.6} fill="#fff" stroke={BLUE} strokeWidth={1.3} />
      ))}
      <YAxis x={633} scale={yL} ticks={ticksCum} fmt={f1} fs={13.5} len={6} gap={3} />
      <YAxis x={792} scale={yR} ticks={ticksFrac} fmt={f1} fs={13.5} len={5} gap={3} right />
      <line x1={633} x2={792} y1={1183} y2={1183} stroke={AXB} strokeWidth={1.5} />
      <XTicks y={1183} scale={x} ticks={ticksKx} fmt={f0} fs={13.5} len={5} gap={4} />
      <text x={715} y={1226} fontSize={12.5} textAnchor="middle" fill={INK}>mEPSC Amplitude (pA)</text>
      <RotLabel x={576} y={1100} lines={["Avg Cum Probability"]} fs={12.5} gap={0} />
      <RotLabel x={825} y={1087} lines={["Avg Fraction"]} fs={13} gap={0} dir={1} />
    </g>
  );
}

export default function App() {
  return (
    <div style={{ position: "absolute", left: 0, top: 0 }}>
      <svg width={837} height={1231} style={{ display: "block", background: "#fff", fontFamily: FONT }}>
        {/* A */}
        <Title letter="A" lx={17} tx={46} y={23} line1="mEPSC frequency" />
        <BarPanel cats={catsA} means={meanA} sems={semA} pre={preA} post={postA} max={300} ticks={ticksA} fmt={f0}
          axisX={71} xEnd={157} yTop={49.5} yBot={239} pi={0.333} po={0.19} fs={14}
          labels={[["BL"], ["30 nM", "Insulin"]]} labelFs={14} labelY={258} lineGap={17} />
        <text x={135} y={76} fontSize={17} textAnchor="middle" fill={INK}>*</text>
        <RotLabel x={13} y={145} lines={["Avg Normalized mEPSC", "Frequency"]} fs={13} gap={17} />
        {/* B */}
        <Title letter="B" lx={213} tx={240} y={23} line1="mEPSC amplitude" />
        <BarPanel cats={catsA} means={meanB} sems={semB} pre={preB} post={postB} max={150} ticks={ticksB} fmt={f0}
          axisX={262} xEnd={348} yTop={49} yBot={239} pi={0.333} po={0.19} fs={14}
          labels={[["BL"], ["30 nM", "Insulin"]]} labelFs={14} labelY={258} lineGap={17} />
        <RotLabel x={209} y={145} lines={["Avg Normalized mEPSC", "Amplitude"]} fs={13} gap={14} />
        <PanelC />
        <PanelD />
        <PanelE />
        {/* F */}
        <Title letter="F" lx={380} tx={400} y={305} line1="mEPSC frequency" line2="+HNMPA" l2x={399} l2anchor="start" />
        <BarPanel cats={catsF} means={meanF} sems={semF} pre={preF} post={postF} max={200} ticks={ticksF} fmt={f0}
          axisX={392} xEnd={500} yTop={353} yBot={543} pi={0.218} po={0.09} fs={12.5}
          labels={[["HNMPA"], ["HNMPA", "+30 nM Insulin"]]} labelFs={11.5} labelY={560} lineGap={16} />
        <RotLabel x={331} y={443} lines={["Avg Normalized mEPSC", "Frequency"]} fs={12.5} gap={16} />
        <PanelG />
        <PanelH />
        {/* I */}
        <Title letter="I" lx={612} tx={632} y={623} line1="Paired pulse facilitation" />
        <BarPanel cats={catsI} means={meanI} sems={semI} pre={preI} post={postI} max={2.5} ticks={ticksI} fmt={f1}
          axisX={631} xEnd={770.5} yTop={671} yBot={861} pi={0.326} po={0.174} fs={14}
          labels={[["BL"], ["30 nM", "Insulin"]]} labelFs={14} labelY={885} lineGap={18} spacing={[[3], [0, 1.2]]} />
        <text x={735} y={734} fontSize={16} textAnchor="middle" fill={INK}>*</text>
        <RotLabel x={578} y={743} lines={["Avg PPF Ratio (P2/P1)"]} fs={14} gap={0} />
        <PanelIInset />
        {/* J */}
        <Title letter="J" lx={372} tx={393} y={955} line1="mEPSC amplitude" line2="+ HNMPA" l2x={452} />
        <BarPanel cats={catsF} means={meanJ} sems={semJ} pre={preJ} post={postJ} max={150} ticks={ticksB} fmt={f0}
          axisX={391} xEnd={530.5} yTop={995} yBot={1183} pi={0.328} po={0.336} fs={14}
          labels={[["HNMPA"], ["HNMPA", "+ 30 nM Insulin"]]} labelFs={11} labelY={1200} lineGap={14} r={3.5} />
        <text x={491} y={1041} fontSize={12} textAnchor="middle" fill={INK}>***</text>
        <RotLabel x={333} y={1120} lines={["Avg Normalized mEPSC", "Amplitude"]} fs={13} gap={16} />
        <PanelK />
      </svg>
    </div>
  );
}
